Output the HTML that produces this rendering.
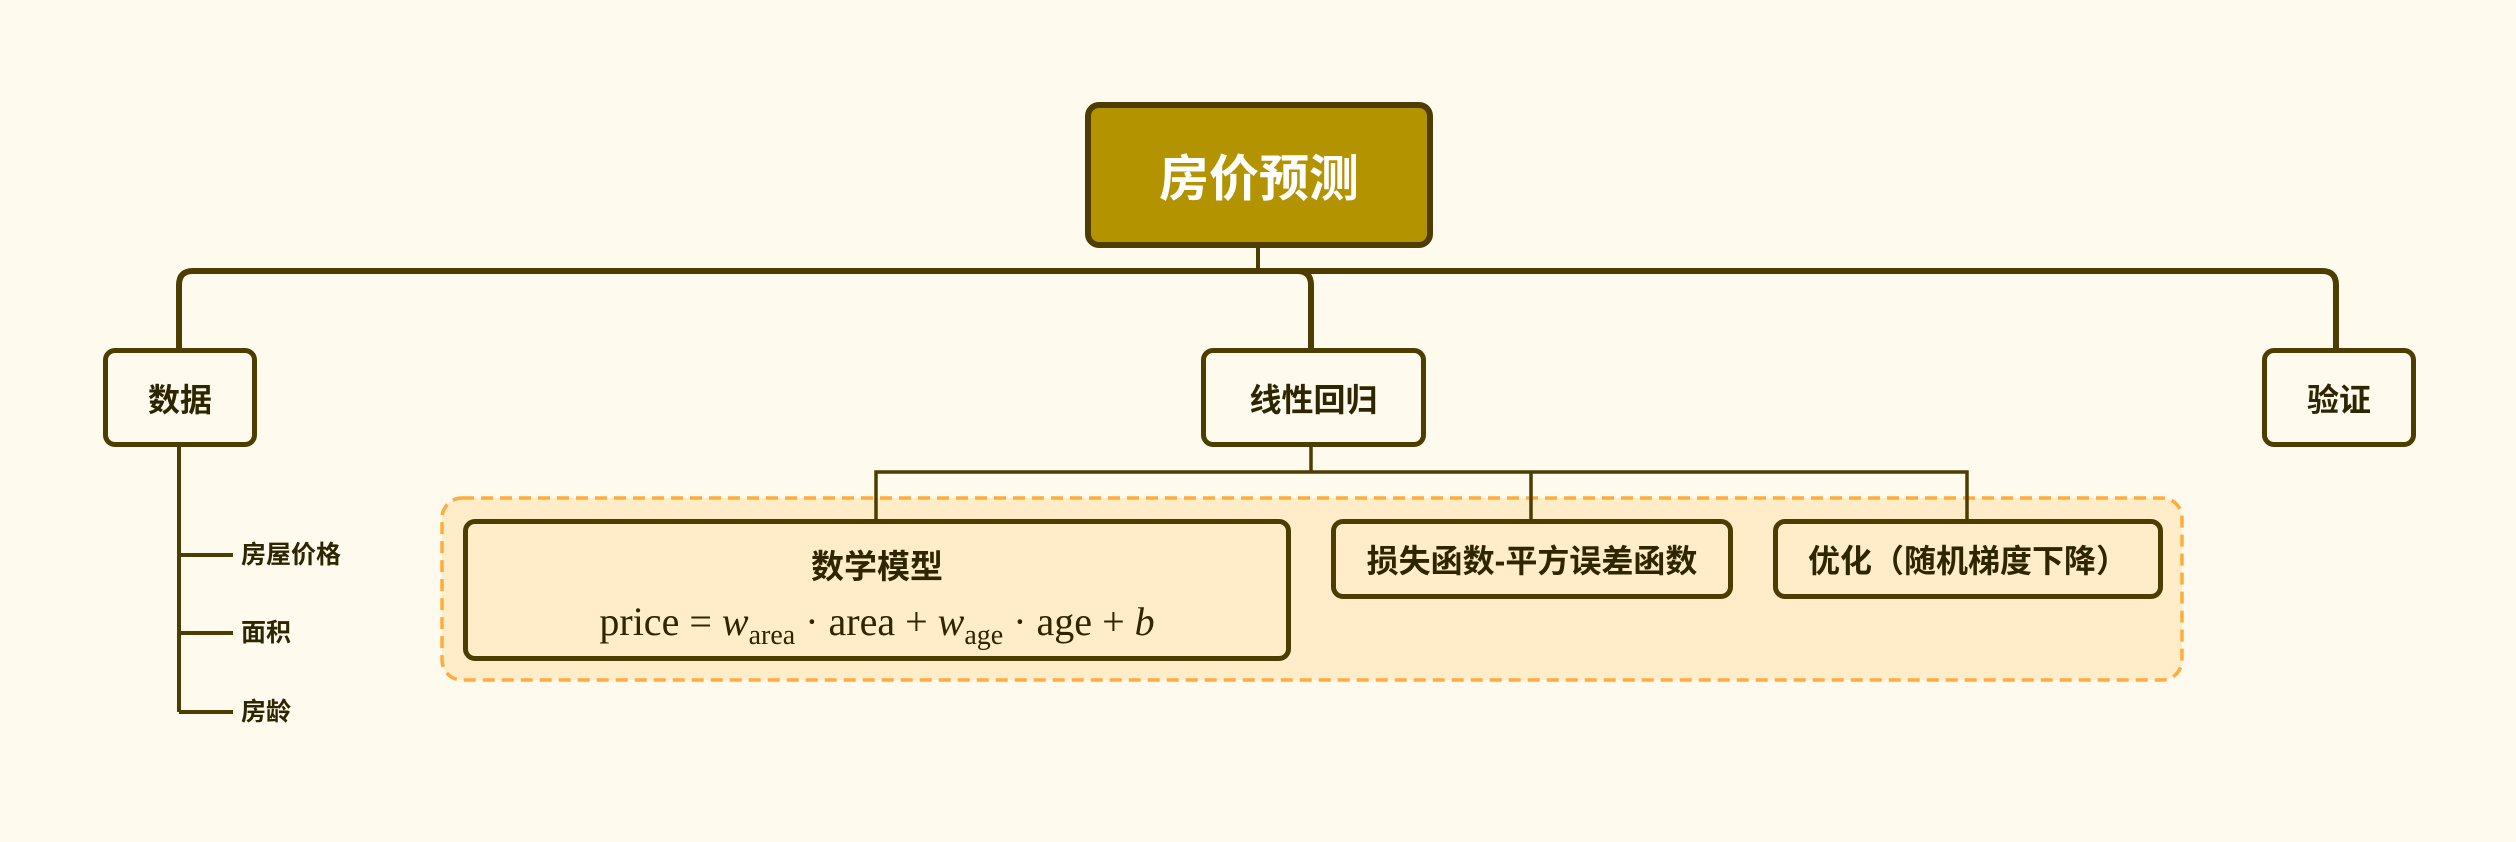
<!DOCTYPE html>
<html><head><meta charset="utf-8"><style>
html,body{margin:0;padding:0}
body{width:2516px;height:842px;background:#fffaee;position:relative;overflow:hidden;font-family:"Liberation Sans","Noto Sans CJK SC",sans-serif;color:#2e2600}
.n{position:absolute;box-sizing:border-box;display:flex;align-items:center;justify-content:center;font-weight:bold;border:5px solid #4d3d00;border-radius:12px;background:#fffaee}
.leaf{position:absolute;font-weight:bold;font-size:25px;line-height:25px}
.op{margin:0 10px}
</style></head><body>
<svg width="2516" height="842" style="position:absolute;left:0;top:0">
<rect x="442" y="498" width="1740" height="182" rx="20" fill="#ffedc9" stroke="#ffac3a" stroke-width="3.5" stroke-dasharray="12,7"/>
<g fill="none" stroke="#4d3d00">
<path d="M1258 247 V271" stroke-width="4"/>
<path d="M179 348 V285 Q179 271 193 271 H2322 Q2336 271 2336 285 V348" stroke-width="6"/>
<path d="M1297 271 Q1311 271 1311 285 V348" stroke-width="6"/>
<path d="M179 446 V712 M179 555 H233 M179 633 H233 M179 712 H233" stroke-width="4"/>
<path d="M1311 446 V472 M876 520 V472 H1967 V520 M1531 472 V520" stroke-width="3.5"/>
</g>
</svg>
<div class="n" style="left:1085px;top:102px;width:348px;height:146px;background:#b39400;border-width:6px;border-radius:14px;color:#fff;font-size:50px">房价预测</div>
<div class="n" style="left:103px;top:348px;width:154px;height:99px;font-size:32px">数据</div>
<div class="n" style="left:1201px;top:348px;width:225px;height:99px;font-size:32px">线性回归</div>
<div class="n" style="left:2262px;top:348px;width:154px;height:99px;font-size:32px">验证</div>
<div class="leaf" style="left:241px;top:543px">房屋价格</div>
<div class="leaf" style="left:241px;top:621px">面积</div>
<div class="leaf" style="left:241px;top:700px">房龄</div>
<div class="n" style="left:463px;top:519px;width:828px;height:142px;background:#ffedc9;flex-direction:column;justify-content:flex-start">
<div style="font-size:33px;margin-top:16px">数学模型</div>
<div style="font-family:'Liberation Serif',serif;font-weight:normal;font-size:40px;margin-top:10px;white-space:nowrap">price<span class="op">=</span><i>w</i><sub style="font-size:28px">area</sub><span class="op">·</span>area<span class="op">+</span><i>w</i><sub style="font-size:28px">age</sub><span class="op">·</span>age<span class="op">+</span><i>b</i></div>
</div>
<div class="n" style="left:1331px;top:519px;width:402px;height:80px;background:#ffedc9;font-size:32px">损失函数-平方误差函数</div>
<div class="n" style="left:1773px;top:519px;width:390px;height:80px;background:#ffedc9;font-size:32px">优化（随机梯度下降）</div>
</body></html>
